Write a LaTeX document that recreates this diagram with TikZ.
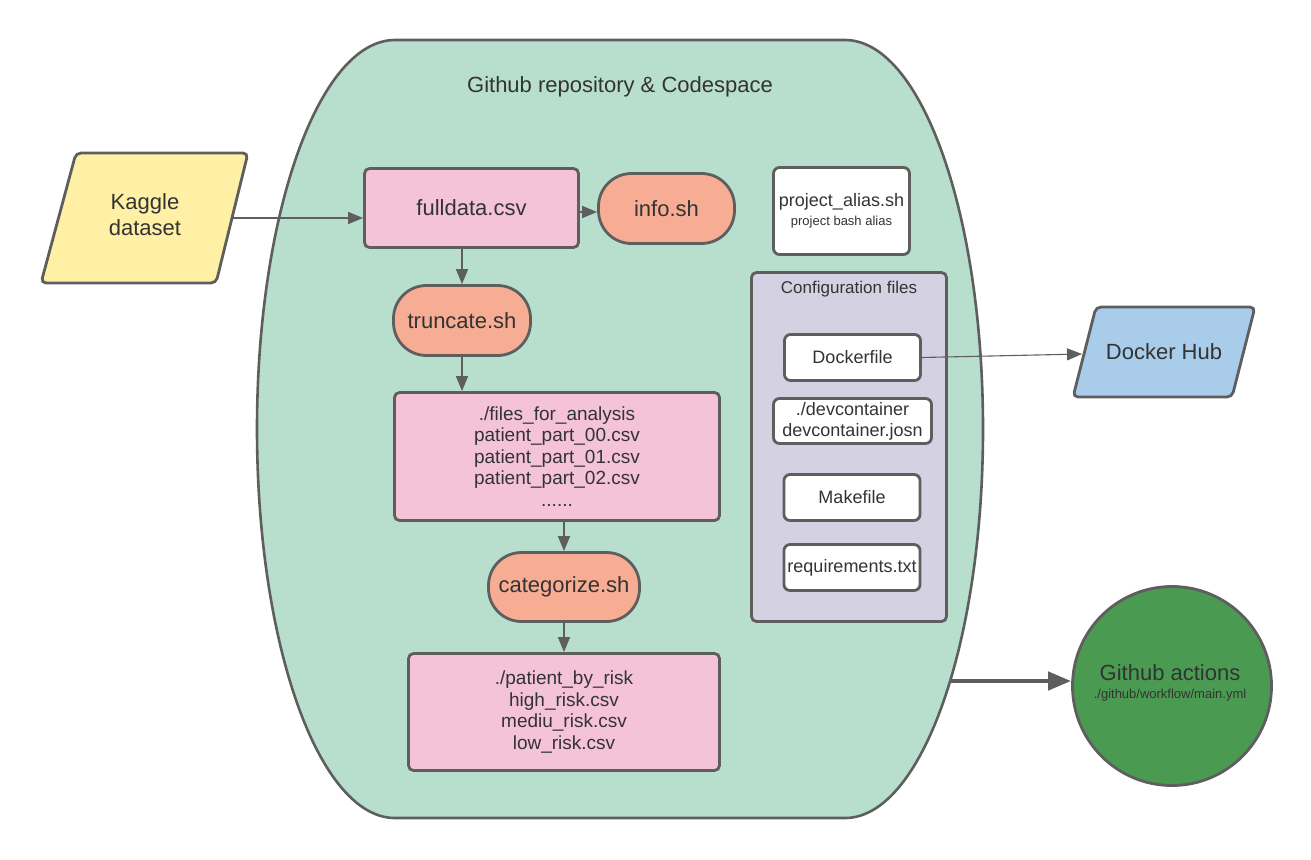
\documentclass[tikz,border=0pt]{standalone}
\usepackage{fontspec}
\setmainfont{Liberation Sans}
\usetikzlibrary{arrows.meta}
\definecolor{edge}{HTML}{5E5E5E}
\definecolor{txt}{HTML}{333333}
\definecolor{repo}{HTML}{B8DFCE}
\definecolor{pinkf}{HTML}{F5C3D8}
\definecolor{salmon}{HTML}{F7AC94}
\definecolor{yell}{HTML}{FFF0A6}
\definecolor{bluef}{HTML}{A8CCE9}
\definecolor{lav}{HTML}{D4D2E2}
\definecolor{ghgreen}{HTML}{4A9A51}
\newcommand\fsz[2]{\fontsize{#1}{#2}\selectfont}
\begin{document}
\begin{tikzpicture}[x=1pt,y=1pt,
  every node/.style={text=txt, inner sep=0pt},
  pinkbox/.style={draw=edge, fill=pinkf, line width=2.8pt, rounded corners=5pt, align=center},
  term/.style={draw=edge, fill=salmon, line width=2.8pt, rounded corners=33pt, align=center, font=\fsz{22}{26}},
  whitebox/.style={draw=edge, fill=white, line width=2.8pt, rounded corners=6pt, align=center},
  conn/.style={draw=edge, line width=1.4pt, -{Triangle[length=15pt,width=12pt]}},
  thinconn/.style={draw=edge, line width=1.1pt, -{Triangle[length=15pt,width=12pt]}},
  thickconn/.style={draw=edge, line width=4.5pt, -{Triangle[length=23pt,width=18pt]}},
  shapeline/.style={draw=edge, line width=2.8pt, rounded corners=5pt}
]
\useasboundingbox (0,0) rectangle (1311,-859);
\fill[white] (0,0) rectangle (1311,-859);

% repository shape
\path[fill=repo, draw=edge, line width=2.6pt]
  (395,-40) -- (845,-40)
  arc[start angle=90, end angle=-90, x radius=138pt, y radius=389pt]
  -- (395,-818)
  arc[start angle=270, end angle=90, x radius=138pt, y radius=389pt]
  -- cycle;
\node[font=\fsz{22}{26}] (title) at (620,-87) {Github repository \& Codespace};

% Kaggle
\path[shapeline, fill=yell] (76,-153) -- (248,-153) -- (216,-283) -- (41,-283) -- cycle;
\node[align=center, font=\fsz{22}{26}] (kag) at (145,-215) {Kaggle\\dataset};
\coordinate (kagE) at (231,-218);

% main flow
\node[pinkbox, minimum width=214pt, minimum height=79pt, font=\fsz{22}{26}] (fulldata) at (471.5,-208) {fulldata.csv};
\node[term, minimum width=136pt, minimum height=70pt] (info) at (666.5,-208.5) {info.sh};
\node[term, minimum width=137pt, minimum height=70pt] (truncate) at (462,-320.5) {truncate.sh};
\node[pinkbox, minimum width=325pt, minimum height=128pt, font=\fsz{19}{21.5}] (files) at (557,-456.5)
  {./files\_for\_analysis\\patient\_part\_00.csv\\patient\_part\_01.csv\\patient\_part\_02.csv\\......};
\node[term, minimum width=151pt, minimum height=69pt] (categorize) at (564,-587) {categorize.sh};
\node[pinkbox, minimum width=311pt, minimum height=117pt, font=\fsz{19}{21.5}] (patient) at (564,-712)
  {./patient\_by\_risk\\high\_risk.csv\\mediu\_risk.csv\\low\_risk.csv};

% right column
\node[whitebox, minimum width=136pt, minimum height=87pt] (alias) at (841.5,-211) {};
\node[font=\fsz{18}{20}] (aliasname) at (841.5,-202) {project\_alias.sh};
\node[font=\fsz{13}{16}] (aliasnote) at (841.5,-222) {project bash alias};
\node[draw=edge, fill=lav, line width=2.8pt, rounded corners=5pt, minimum width=195pt, minimum height=349pt] (cfg) at (849,-447) {};
\node[font=\fsz{17}{20}] (cfgtitle) at (849,-289) {Configuration files};
\node[whitebox, minimum width=136pt, minimum height=46pt, font=\fsz{18}{21}] (dockerfile) at (852.5,-357.5) {Dockerfile};
\node[whitebox, minimum width=158pt, minimum height=45pt, font=\fsz{18}{21}] (devc) at (852.5,-421) {./devcontainer\\devcontainer.josn};
\node[whitebox, minimum width=136pt, minimum height=46pt, font=\fsz{18}{21}] (make) at (852,-497.5) {Makefile};
\node[whitebox, minimum width=136pt, minimum height=46pt, font=\fsz{18}{21}] (req) at (852,-567.5) {requirements.txt};

% Docker Hub
\path[shapeline, fill=bluef] (1096,-307) -- (1255,-307) -- (1232,-397) -- (1073,-397) -- cycle;
\node[font=\fsz{22}{26}] (dhub) at (1164,-352) {Docker Hub};
\coordinate (dhW) at (1082,-354);

% Github actions
\node[circle, draw=edge, fill=ghgreen, line width=2.8pt, minimum size=199pt] (gha) at (1172,-686) {};
\node[font=\fsz{22}{24}] (ghaname) at (1170,-673) {Github actions};
\node[font=\fsz{13}{16}] (ghapath) at (1170,-695) {./github/workflow/main.yml};
\coordinate (repoE) at (950,-681);

% connectors
\draw[conn] (kagE) -- (kagE -| fulldata.west);
\draw[conn] ([yshift=-4pt]fulldata.east) -- ([yshift=-4pt]fulldata.east -| info.west);
\draw[conn] (fulldata.south -| truncate) -- (truncate.north);
\draw[conn] (truncate.south) -- (truncate.south |- files.north);
\draw[conn] (files.south -| categorize) -- (categorize.north);
\draw[conn] (categorize.south) -- (categorize.south |- patient.north);
\draw[thinconn] (dockerfile.east) -- (dhW);
\draw[thickconn] (repoE) -- (repoE -| gha.west);
\end{tikzpicture}
\end{document}
